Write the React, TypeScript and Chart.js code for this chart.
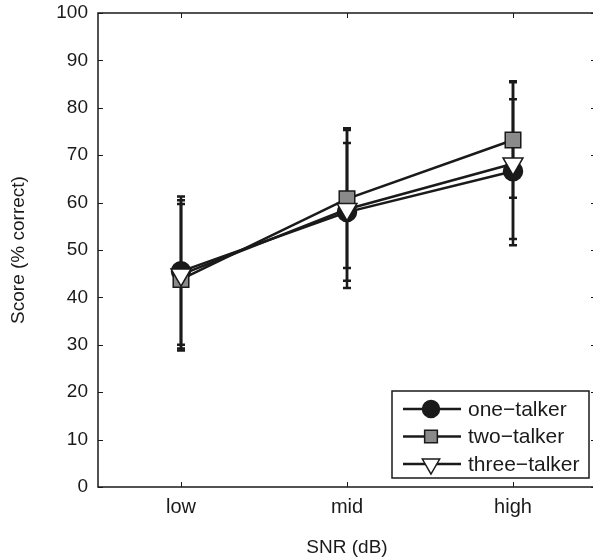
import React, { useEffect, useRef } from 'react';
import { Chart, registerables } from 'chart.js';

Chart.register(...registerables);

// ---- data ----
const categories = ['low', 'mid', 'high'];
const seriesNames = ['one\u2212talker', 'two\u2212talker', 'three\u2212talker'];

const oneTalker = [45.5, 58.0, 66.6];
const oneLower = [30.0, 43.5, 52.3];
const oneUpper = [61.3, 72.6, 81.8];

const twoTalker = [43.8, 60.8, 73.2];
const twoLower = [28.8, 46.2, 61.0];
const twoUpper = [59.7, 75.7, 85.6];

const threeTalker = [44.8, 58.6, 68.2];
const threeLower = [29.2, 42.0, 51.0];
const threeUpper = [60.5, 75.3, 85.4];

const yTicks = [0, 10, 20, 30, 40, 50, 60, 70, 80, 90, 100];

const lowerBounds = [oneLower, twoLower, threeLower];
const upperBounds = [oneUpper, twoUpper, threeUpper];

const FONT = '"Liberation Sans", Arial, Helvetica, sans-serif';
const INK = '#1a1a1a';
const FS = 19;

function drawMarker(ctx: CanvasRenderingContext2D, style: string, x: number, y: number, r: number, fill: string) {
  ctx.save();
  ctx.fillStyle = fill;
  ctx.strokeStyle = INK;
  ctx.lineWidth = 1.5;
  ctx.beginPath();
  if (style === 'circle') {
    ctx.arc(x, y, r, 0, Math.PI * 2);
  } else if (style === 'rect') {
    const s = r * Math.SQRT1_2;
    ctx.rect(x - s, y - s, 2 * s, 2 * s);
  } else {
    const a = Math.PI;
    for (let k = 0; k < 3; k++) {
      const ang = a + (k * 2 * Math.PI) / 3;
      const px = x + Math.sin(ang) * r;
      const py = y - Math.cos(ang) * r;
      if (k === 0) ctx.moveTo(px, py);
      else ctx.lineTo(px, py);
    }
    ctx.closePath();
  }
  ctx.fill();
  ctx.stroke();
  ctx.restore();
}

const zeroPad = (s: any) => {
  s.paddingTop = 0;
  s.paddingBottom = 0;
  s.paddingLeft = 0;
  s.paddingRight = 0;
};

const framePlugin = {
  id: 'framePlugin',
  beforeDatasetsDraw(chart: any) {
    const ctx: CanvasRenderingContext2D = chart.ctx;
    const yScale = chart.scales.y;
    ctx.save();
    ctx.strokeStyle = INK;
    ctx.lineWidth = 2.5;
    chart.data.datasets.forEach((ds: any, i: number) => {
      const meta = chart.getDatasetMeta(i);
      meta.data.forEach((pt: any, j: number) => {
        const x = pt.x;
        const yLo = yScale.getPixelForValue(lowerBounds[i][j]);
        const yHi = yScale.getPixelForValue(upperBounds[i][j]);
        ctx.beginPath();
        ctx.moveTo(x, yLo);
        ctx.lineTo(x, yHi);
        ctx.moveTo(x - 4, yLo);
        ctx.lineTo(x + 4, yLo);
        ctx.moveTo(x - 4, yHi);
        ctx.lineTo(x + 4, yHi);
        ctx.stroke();
      });
    });
    ctx.restore();
  },
  afterDraw(chart: any) {
    const ctx: CanvasRenderingContext2D = chart.ctx;
    const { left, right, top, bottom } = chart.chartArea;
    const xScale = chart.scales.x;
    const yScale = chart.scales.y;
    ctx.save();
    ctx.strokeStyle = INK;
    ctx.lineWidth = 1.5;
    ctx.strokeRect(left, top, right - left, bottom - top);
    ctx.lineWidth = 1;
    const tl = 5;
    ctx.beginPath();
    categories.forEach((_, i) => {
      const x = Math.round(xScale.getPixelForValue(i)) + 0.5;
      ctx.moveTo(x, bottom);
      ctx.lineTo(x, bottom - tl);
      ctx.moveTo(x, top);
      ctx.lineTo(x, top + tl);
    });
    yTicks.forEach((v) => {
      const y = Math.round(yScale.getPixelForValue(v)) + 0.5;
      ctx.moveTo(left, y);
      ctx.lineTo(left + tl, y);
      ctx.moveTo(right, y);
      ctx.lineTo(right - tl, y);
    });
    ctx.stroke();

    // legend
    const bw = 197;
    const bh = 87;
    const bx = right - 7 - bw;
    const by = bottom - 9 - bh;
    ctx.fillStyle = '#ffffff';
    ctx.fillRect(bx, by, bw, bh);
    ctx.lineWidth = 1.5;
    ctx.strokeStyle = INK;
    ctx.strokeRect(bx, by, bw, bh);
    chart.data.datasets.forEach((ds: any, i: number) => {
      const cy = by + 18 + i * 27.5;
      ctx.beginPath();
      ctx.lineWidth = 2.5;
      ctx.moveTo(bx + 11, cy);
      ctx.lineTo(bx + 69, cy);
      ctx.stroke();
      const r = ds.pointStyle === 'circle' ? 8.5 : ds.pointStyle === 'rect' ? 9 : 10;
      drawMarker(ctx, ds.pointStyle, bx + 39, cy, r, ds.pointBackgroundColor);
      ctx.fillStyle = INK;
      ctx.font = `21px ${FONT}`;
      ctx.textBaseline = 'middle';
      ctx.textAlign = 'left';
      ctx.fillText(ds.label, bx + 76, cy + 1);
    });
    ctx.restore();
  },
};

export default function App() {
  const canvasRef = useRef<HTMLCanvasElement | null>(null);

  useEffect(() => {
    const canvas = canvasRef.current;
    if (!canvas) return;
    const common = {
      borderColor: INK,
      borderWidth: 2.5,
      pointBorderColor: INK,
      pointBorderWidth: 1.5,
      fill: false,
      tension: 0,
    };
    const chart = new Chart(canvas, {
      type: 'line',
      data: {
        labels: categories,
        datasets: [
          {
            ...common,
            label: seriesNames[0],
            data: oneTalker,
            pointStyle: 'circle',
            pointRadius: 9.5,
            pointBackgroundColor: INK,
            order: 3,
          },
          {
            ...common,
            label: seriesNames[1],
            data: twoTalker,
            pointStyle: 'rect',
            pointRadius: 11,
            pointBackgroundColor: '#8a8a8a',
            order: 2,
          },
          {
            ...common,
            label: seriesNames[2],
            data: threeTalker,
            pointStyle: 'triangle',
            pointRotation: 180,
            pointRadius: 11.5,
            pointBackgroundColor: '#ffffff',
            order: 1,
          },
        ] as any,
      },
      options: {
        responsive: true,
        maintainAspectRatio: false,
        animation: false,
        devicePixelRatio: 1,
        layout: { autoPadding: false, padding: { top: 13, right: 4, left: 0, bottom: 0 } },
        plugins: {
          legend: { display: false },
          tooltip: { enabled: false },
        },
        scales: {
          x: {
            type: 'category',
            offset: true,
            grid: { display: false, drawTicks: false },
            border: { display: false },
            ticks: {
              color: INK,
              font: { family: FONT, size: 20 },
              padding: 8,
              maxRotation: 0,
            },
            title: {
              display: true,
              text: 'SNR (dB)',
              color: INK,
              font: { family: FONT, size: FS },
              padding: { top: 0, bottom: 0 },
            },
            afterFit: (s: any) => {
              s.height = 72;
              zeroPad(s);
            },
          },
          y: {
            type: 'linear',
            min: 0,
            max: 100,
            grid: { display: false, drawTicks: false },
            border: { display: false },
            afterBuildTicks: (s: any) => {
              s.ticks = yTicks.map((v) => ({ value: v }));
            },
            ticks: {
              color: INK,
              font: { family: FONT, size: FS },
              padding: 10,
            },
            title: {
              display: true,
              text: 'Score (% correct)',
              color: INK,
              font: { family: FONT, size: FS },
              padding: { top: 7, bottom: 0 },
            },
            afterFit: (s: any) => {
              s.width = 98;
              zeroPad(s);
            },
          },
        },
      } as any,
      plugins: [framePlugin],
    });
    return () => chart.destroy();
  }, []);

  return (
    <div
      style={{
        position: 'absolute',
        left: 0,
        top: 0,
        width: 593,
        height: 559,
        overflow: 'hidden',
        background: '#ffffff',
      }}
    >
      <div style={{ position: 'relative', width: 600, height: 559 }}>
        <canvas ref={canvasRef} />
      </div>
    </div>
  );
}
